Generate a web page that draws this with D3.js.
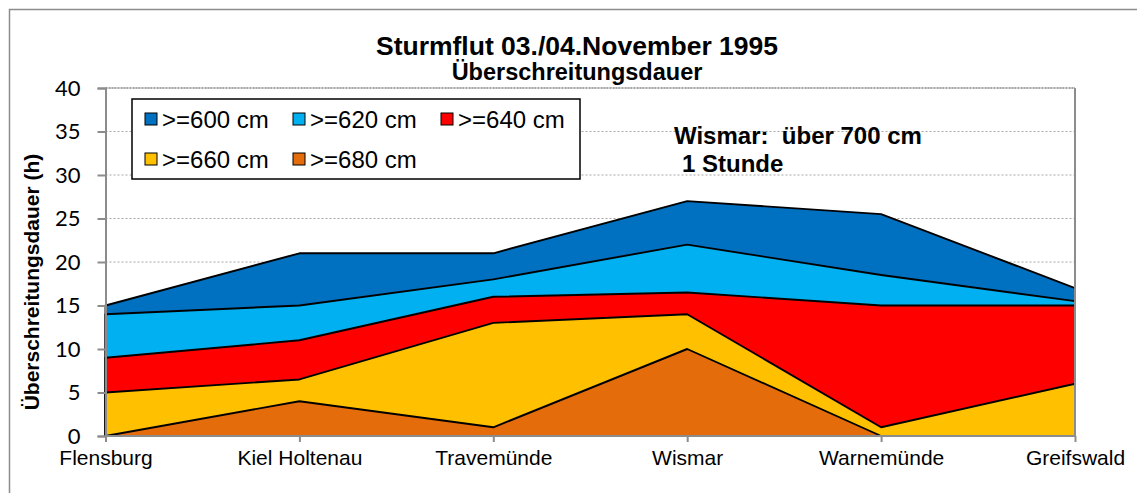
<!DOCTYPE html>
<html><head><meta charset="utf-8">
<script src="https://cdn.jsdelivr.net/npm/d3@7"></script>
<style>body{margin:0;background:#fff}svg{display:block}</style>
</head><body>
<svg id="c" width="1137" height="493"></svg>
<script>
const categories = ["Flensburg","Kiel Holtenau","Travemünde","Wismar","Warnemünde","Greifswald"];
const seriesNames = [">=600 cm", ">=620 cm", ">=640 cm", ">=660 cm", ">=680 cm"];
const dur600 = [15, 21, 21, 27, 25.5, 17];
const dur620 = [14, 15, 18, 22, 18.5, 15.5];
const dur640 = [9, 11, 16, 16.5, 15, 15];
const dur660 = [5, 6.5, 13, 14, 1, 6];
const dur680 = [0, 4, 1, 10, 0, 0];
const yTicks = [0, 5, 10, 15, 20, 25, 30, 35, 40];
const colors = ["#0070C0", "#00B0F0", "#FF0000", "#FFC000", "#E46C0A"];
const seriesValues = [dur600, dur620, dur640, dur660, dur680];

const svg = d3.select("#c");
const L = 105.5, R = 1075, T = 88, B = 436;
const x = d3.scalePoint().domain(categories).range([L, R]);
const y = d3.scaleLinear().domain([0, 40]).range([B, T]);

// outer border
svg.append("path").attr("d", `M9.5,493 V9.5 H1137`).attr("fill","none").attr("stroke","#8c8c8c").attr("stroke-width",1.5);

// gridlines
svg.append("g").selectAll("line").data(yTicks.filter(d => d > 0)).join("line")
  .attr("x1", L).attr("x2", R).attr("y1", d => y(d)).attr("y2", d => y(d))
  .attr("stroke", "#a6a6a6").attr("stroke-width", 1).attr("stroke-dasharray", "2,2");

// areas
const area = d3.area().x((d, i) => x(categories[i])).y0(y(0)).y1(d => y(d));
svg.append("g").selectAll("path").data(seriesValues).join("path")
  .attr("d", d => area(d)).attr("fill", (d, i) => colors[i])
  .attr("stroke", "#000").attr("stroke-width", 1.9).attr("stroke-linejoin", "round");

// plot border right & top
svg.append("line").attr("x1", R).attr("x2", R).attr("y1", T).attr("y2", B).attr("stroke", "#8c8c8c").attr("stroke-width", 2);
svg.append("line").attr("x1", L).attr("x2", R).attr("y1", T).attr("y2", T).attr("stroke", "#a6a6a6").attr("stroke-width", 2).attr("stroke-dasharray","2,1");

// y axis
const yAxis = svg.append("g").attr("transform", `translate(${L},0)`)
  .call(d3.axisLeft(y).tickValues(yTicks).tickSize(8).tickPadding(17));
yAxis.select(".domain").attr("stroke", "#8c8c8c").attr("stroke-width", 2);
yAxis.selectAll(".tick line").attr("stroke", "#8c8c8c").attr("stroke-width", 2);
yAxis.selectAll(".tick text").attr("font-family", "Lato").attr("font-size", 22).attr("fill", "#000");

// x axis
const xAxis = svg.append("g").attr("transform", `translate(0,${B})`)
  .call(d3.axisBottom(x).tickSize(6).tickPadding(8));
xAxis.select(".domain").attr("stroke", "#8c8c8c").attr("stroke-width", 2).attr("d", `M${L},0H${R}`);
xAxis.selectAll(".tick line").attr("stroke", "#8c8c8c").attr("stroke-width", 2);
xAxis.selectAll(".tick text").attr("font-family", "Liberation Sans, Arial").attr("font-size", 21).attr("fill", "#000");

// titles
svg.append("text").attr("x", 577).attr("y", 55).attr("text-anchor", "middle")
  .attr("font-family", "Liberation Sans, Arial").attr("font-weight", "bold").attr("font-size", 26.5).text("Sturmflut 03./04.November 1995");
svg.append("text").attr("x", 577).attr("y", 80).attr("text-anchor", "middle")
  .attr("font-family", "Liberation Sans, Arial").attr("font-weight", "bold").attr("font-size", 23.5).text("Überschreitungsdauer");

// y axis title
svg.append("text").attr("transform", `translate(39,${282}) rotate(-90)`).attr("text-anchor", "middle")
  .attr("font-family", "Liberation Sans, Arial").attr("font-weight", "bold").attr("font-size", 21).text("Überschreitungsdauer (h)");

// annotation
svg.append("text").attr("x", 674).attr("y", 144)
  .attr("font-family", "Liberation Sans, Arial").attr("font-weight", "bold").attr("font-size", 24)
  .attr("xml:space", "preserve").style("white-space", "pre").text("Wismar:  über 700 cm");
svg.append("text").attr("x", 682).attr("y", 172)
  .attr("font-family", "Liberation Sans, Arial").attr("font-weight", "bold").attr("font-size", 24).text("1 Stunde");

// legend
const lg = svg.append("g");
lg.append("rect").attr("x", 132).attr("y", 99).attr("width", 448).attr("height", 80)
  .attr("fill", "#fff").attr("stroke", "#000").attr("stroke-width", 1.5);
const legPos = [[145,119],[293,119],[441,119],[145,159],[293,159]];
seriesNames.forEach((n, i) => {
  const [lx, ly] = legPos[i];
  lg.append("rect").attr("x", lx).attr("y", ly - 6).attr("width", 12).attr("height", 12)
    .attr("fill", colors[i]).attr("stroke", "#000").attr("stroke-width", 1);
  lg.append("text").attr("x", lx + 17).attr("y", ly).attr("dy", "0.36em")
    .attr("font-family", "Liberation Sans, Arial").attr("font-size", 24).text(n);
});
</script>
</body></html>
